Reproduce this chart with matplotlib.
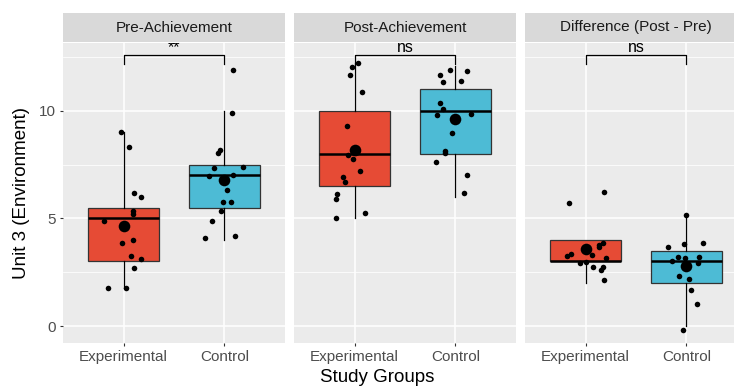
import numpy as np
import matplotlib
matplotlib.use("Agg")
import matplotlib.pyplot as plt

plt.rcParams["font.family"] = ["Liberation Sans", "DejaVu Sans"]

# ---------------------------------------------------
# data
# ---------------------------------------------------
groups = ["Experimental", "Control"]
panels = ["Pre-Achievement", "Post-Achievement", "Difference (Post - Pre)"]
sig_labels = ["**", "ns", "ns"]

# box stats: [whisker low, q1, median, q3, whisker high]
box_exp = [[1.75, 3.0, 5.0, 5.5, 9.0],
           [5.0, 6.5, 8.0, 10.0, 12.25],
           [2.0, 3.0, 3.0, 4.0, 4.0]]
box_ctl = [[4.0, 5.5, 7.0, 7.5, 10.0],
           [6.0, 8.0, 10.0, 11.0, 12.1],
           [0.0, 2.0, 3.0, 3.5, 5.0]]
mean_exp = [4.65, 8.19, 3.57]
mean_ctl = [6.79, 9.61, 2.77]

# jittered points (value, horizontal jitter)
pre_exp_y = [9.0, 8.33, 6.2, 5.99, 5.35, 5.19, 4.88, 4.0, 3.86, 3.27, 3.13, 2.71, 1.75, 1.77]
pre_exp_jit = [-0.03, 0.05, 0.10, 0.17, 0.095, 0.095, -0.19, 0.09, -0.015, 0.07, 0.175, 0.10, -0.155, 0.02]
pre_ctl_y = [11.89, 9.91, 8.06, 8.19, 7.33, 7.38, 6.98, 7.04, 6.34, 5.75, 5.75, 5.33, 4.90, 4.11, 4.2]
pre_ctl_jit = [0.08, 0.07, -0.065, -0.04, -0.105, 0.185, -0.15, 0.085, 0.03, -0.015, 0.065, -0.03, -0.125, -0.19, 0.105]

post_exp_y = [12.22, 12.05, 11.66, 10.88, 9.29, 7.95, 7.75, 7.22, 6.93, 6.70, 6.16, 5.89, 5.26, 5.01]
post_exp_jit = [0.036, -0.03, -0.045, 0.07, -0.075, -0.065, -0.02, 0.05, -0.11, -0.095, -0.17, -0.185, 0.10, -0.185]
post_ctl_y = [11.92, 11.84, 11.66, 11.35, 11.38, 10.37, 10.09, 9.8, 9.84, 8.96, 8.12, 8.03, 7.63, 7.04, 6.17]
post_ctl_jit = [-0.055, 0.11, -0.15, -0.125, 0.055, -0.15, -0.125, -0.18, 0.15, -0.03, -0.10, -0.105, -0.19, 0.115, 0.08]

diff_exp_y = [5.74, 6.23, 3.85, 3.75, 3.66, 3.36, 3.26, 3.30, 3.18, 2.93, 2.96, 2.74, 2.74, 2.59, 2.14]
diff_exp_jit = [-0.165, 0.185, 0.17, 0.135, 0.13, -0.145, -0.185, 0.065, 0.20, -0.055, 0.0, 0.075, 0.175, 0.15, 0.185]
diff_ctl_y = [5.18, 3.83, 3.88, 3.67, 3.19, 3.21, 3.15, 3.01, 2.91, 2.34, 2.19, 1.69, 1.01, -0.2]
diff_ctl_jit = [0.0, -0.02, 0.165, -0.185, -0.087, 0.123, -0.013, -0.14, 0.113, -0.078, 0.023, 0.045, 0.10, -0.03]

points = [
    [(pre_exp_y, pre_exp_jit), (pre_ctl_y, pre_ctl_jit)],
    [(post_exp_y, post_exp_jit), (post_ctl_y, post_ctl_jit)],
    [(diff_exp_y, diff_exp_jit), (diff_ctl_y, diff_ctl_jit)],
]

colors = ["#E64B35", "#4DBBD5"]

# ---------------------------------------------------
# figure
# ---------------------------------------------------
W, H = 734, 388
fig = plt.figure(figsize=(W / 100, H / 100), dpi=100)

panel_left = [63, 294, 525]
panel_w = 222
panel_top, panel_bot = 43, 343
strip_top = 13

for i, title in enumerate(panels):
    ax = fig.add_axes([panel_left[i] / W, (H - panel_bot) / H,
                       panel_w / W, (panel_bot - panel_top) / H])
    ax.set_facecolor("#EBEBEB")
    for s in ax.spines.values():
        s.set_visible(False)
    ax.set_xlim(0.4, 2.6)
    ax.set_ylim(-0.79, 13.16)

    ax.set_yticks([0, 5, 10])
    ax.set_yticks([2.5, 7.5, 12.5], minor=True)
    ax.set_xticks([1, 2])
    ax.set_xticklabels(groups)
    ax.grid(True, which="major", color="white", lw=1.1)
    ax.grid(True, which="minor", axis="y", color="white", lw=0.55)
    ax.set_axisbelow(True)
    ax.tick_params(which="minor", length=0)
    ax.tick_params(which="major", length=2.5, width=0.8, color="#333333",
                   labelcolor="#4D4D4D", labelsize=11, pad=2.5)
    if i > 0:
        ax.tick_params(axis="y", which="major", length=0, labelleft=False)

    stats = []
    for b in (box_exp[i], box_ctl[i]):
        stats.append(dict(whislo=b[0], q1=b[1], med=b[2], q3=b[3], whishi=b[4], fliers=[]))
    bp = ax.bxp(stats, positions=[1, 2], widths=0.7, patch_artist=True,
                showfliers=False, showcaps=False,
                boxprops=dict(edgecolor="#333333", lw=0.9),
                medianprops=dict(color="black", lw=1.8),
                whiskerprops=dict(color="black", lw=0.9),
                manage_ticks=False)
    for patch, c in zip(bp["boxes"], colors):
        patch.set_facecolor(c)

    for g, (ys, jit) in enumerate(points[i]):
        xs = np.array(jit) + g + 1
        ax.scatter(xs, ys, s=16, color="black", lw=0, zorder=3)
    ax.scatter([1, 2], [mean_exp[i], mean_ctl[i]], s=70, color="black", lw=0, zorder=4)

    # significance bracket
    ax.plot([1, 1, 2, 2], [12.2, 12.6, 12.6, 12.2], color="black", lw=0.9, zorder=5)
    ax.text(1.5, 12.74, sig_labels[i], ha="center", va="baseline", fontsize=11.5,
            color="black", clip_on=True)

    # facet strip
    sax = fig.add_axes([panel_left[i] / W, (H - panel_top + 1) / H,
                        panel_w / W, (panel_top - 1 - strip_top) / H])
    sax.set_facecolor("#D9D9D9")
    sax.set_xticks([])
    sax.set_yticks([])
    for s in sax.spines.values():
        s.set_visible(False)
    sax.text(0.5, 0.5, title, ha="center", va="center", fontsize=11,
             color="#1A1A1A", transform=sax.transAxes)

fig.text(22 / W, 1 - 193 / H, "Unit 3 (Environment)", rotation=90,
         ha="center", va="center", fontsize=13.5)
fig.text(377 / W, 1 - 378 / H, "Study Groups", ha="center", va="center", fontsize=13.5)

fig.savefig("out.png", dpi=100)
